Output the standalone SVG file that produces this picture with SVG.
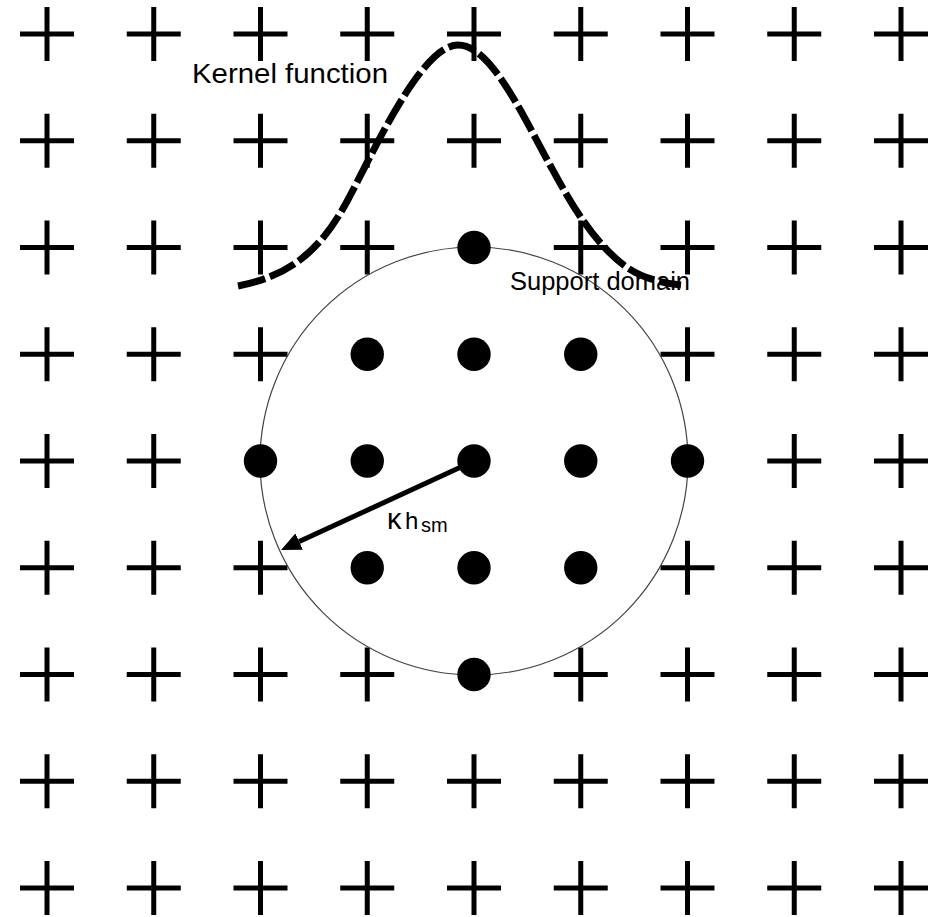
<svg xmlns="http://www.w3.org/2000/svg" xmlns:xlink="http://www.w3.org/1999/xlink" width="934" height="917" viewBox="0 0 934 917">
<style>
.plus{stroke:#000;stroke-width:5;fill:none}
.dot{fill:#000}
.domain{fill:none;stroke:#444;stroke-width:1.2}
.kernel{fill:none;stroke:#000;stroke-width:7;stroke-dasharray:28 5}
.radius{stroke:#000;stroke-width:5;fill:none}
.lbl{font-family:"Liberation Sans",Arial,sans-serif;fill:#000}
</style>
<defs>
<path id="plus" d="M-27,0H27M0,-27V27"/>
<marker id="arrow" viewBox="0 0 20 18" refX="0" refY="9" markerWidth="20" markerHeight="18" markerUnits="userSpaceOnUse" orient="auto">
<path d="M0,0L20,9L0,18z" fill="#000"/>
</marker>
</defs>
<rect width="934" height="917" fill="#fff"/>
<g id="grid-crosses" class="plus">
<use href="#plus" x="47" y="34"/><use href="#plus" x="153.75" y="34"/><use href="#plus" x="260.5" y="34"/><use href="#plus" x="367.25" y="34"/><use href="#plus" x="474" y="34"/><use href="#plus" x="580.75" y="34"/><use href="#plus" x="687.5" y="34"/><use href="#plus" x="794.25" y="34"/><use href="#plus" x="901" y="34"/>
<use href="#plus" x="47" y="140.75"/><use href="#plus" x="153.75" y="140.75"/><use href="#plus" x="260.5" y="140.75"/><use href="#plus" x="367.25" y="140.75"/><use href="#plus" x="474" y="140.75"/><use href="#plus" x="580.75" y="140.75"/><use href="#plus" x="687.5" y="140.75"/><use href="#plus" x="794.25" y="140.75"/><use href="#plus" x="901" y="140.75"/>
<use href="#plus" x="47" y="247.5"/><use href="#plus" x="153.75" y="247.5"/><use href="#plus" x="260.5" y="247.5"/><use href="#plus" x="367.25" y="247.5"/><use href="#plus" x="580.75" y="247.5"/><use href="#plus" x="687.5" y="247.5"/><use href="#plus" x="794.25" y="247.5"/><use href="#plus" x="901" y="247.5"/>
<use href="#plus" x="47" y="354.25"/><use href="#plus" x="153.75" y="354.25"/><use href="#plus" x="260.5" y="354.25"/><use href="#plus" x="687.5" y="354.25"/><use href="#plus" x="794.25" y="354.25"/><use href="#plus" x="901" y="354.25"/>
<use href="#plus" x="47" y="461"/><use href="#plus" x="153.75" y="461"/><use href="#plus" x="794.25" y="461"/><use href="#plus" x="901" y="461"/>
<use href="#plus" x="47" y="567.75"/><use href="#plus" x="153.75" y="567.75"/><use href="#plus" x="260.5" y="567.75"/><use href="#plus" x="687.5" y="567.75"/><use href="#plus" x="794.25" y="567.75"/><use href="#plus" x="901" y="567.75"/>
<use href="#plus" x="47" y="674.5"/><use href="#plus" x="153.75" y="674.5"/><use href="#plus" x="260.5" y="674.5"/><use href="#plus" x="367.25" y="674.5"/><use href="#plus" x="580.75" y="674.5"/><use href="#plus" x="687.5" y="674.5"/><use href="#plus" x="794.25" y="674.5"/><use href="#plus" x="901" y="674.5"/>
<use href="#plus" x="47" y="781.25"/><use href="#plus" x="153.75" y="781.25"/><use href="#plus" x="260.5" y="781.25"/><use href="#plus" x="367.25" y="781.25"/><use href="#plus" x="474" y="781.25"/><use href="#plus" x="580.75" y="781.25"/><use href="#plus" x="687.5" y="781.25"/><use href="#plus" x="794.25" y="781.25"/><use href="#plus" x="901" y="781.25"/>
<use href="#plus" x="47" y="888"/><use href="#plus" x="153.75" y="888"/><use href="#plus" x="260.5" y="888"/><use href="#plus" x="367.25" y="888"/><use href="#plus" x="474" y="888"/><use href="#plus" x="580.75" y="888"/><use href="#plus" x="687.5" y="888"/><use href="#plus" x="794.25" y="888"/><use href="#plus" x="901" y="888"/>
</g>
<g id="support-domain">
<circle class="domain" cx="474" cy="461" r="214"/>
<text class="lbl" x="510" y="290" font-size="25.5">Support domain</text>
</g>
<g id="particles" class="dot">
<circle cx="474" cy="247.5" r="16.7"/>
<circle cx="367.25" cy="354.25" r="16.7"/><circle cx="474" cy="354.25" r="16.7"/><circle cx="580.75" cy="354.25" r="16.7"/>
<circle cx="260.5" cy="461" r="16.7"/><circle cx="367.25" cy="461" r="16.7"/><circle cx="474" cy="461" r="16.7"/><circle cx="580.75" cy="461" r="16.7"/><circle cx="687.5" cy="461" r="16.7"/>
<circle cx="367.25" cy="567.75" r="16.7"/><circle cx="474" cy="567.75" r="16.7"/><circle cx="580.75" cy="567.75" r="16.7"/>
<circle cx="474" cy="674.5" r="16.7"/>
</g>
<g id="kernel-function">
<text class="lbl" x="192" y="83" font-size="28" textLength="196" lengthAdjust="spacingAndGlyphs">Kernel function</text>
<path class="kernel" d="M238,286 C290,276 320,250 345,205 C370,160 420,45 458,45 C490,45 520,110 550,165 C566,194 590,240 625,266 C640,277 660,283 681,285"/>
</g>
<g id="connectors">
<line class="radius" x1="474" y1="461" x2="299.2" y2="541.6" marker-end="url(#arrow)"/>
</g>
<g id="radius-label">
<text class="lbl" x="387" y="529"><tspan font-size="29">κ</tspan><tspan x="405" font-size="24">h</tspan><tspan x="421" y="532" font-size="20">sm</tspan></text>
</g>
</svg>
